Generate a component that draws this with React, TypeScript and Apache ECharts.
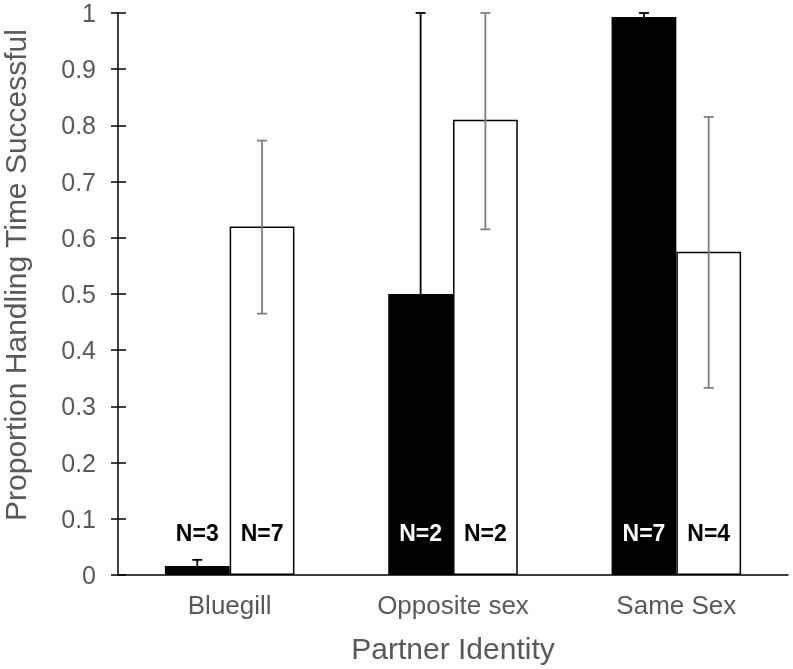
import React, { useEffect, useRef } from "react";
import * as echarts from "echarts";

const categories = ["Bluegill", "Opposite sex", "Same Sex"];
const blackValues = [0.016, 0.5, 0.993];
const whiteValues = [0.62, 0.81, 0.575];
const blackErrHigh = [0.027, 1.0, 1.0];
const whiteErrLow = [0.465, 0.615, 0.333];
const whiteErrHigh = [0.773, 1.0, 0.815];
const blackN = ["N=3", "N=2", "N=7"];
const whiteN = ["N=7", "N=2", "N=4"];
const yTicks = [0, 0.1, 0.2, 0.3, 0.4, 0.5, 0.6, 0.7, 0.8, 0.9, 1];
const yTitle = "Proportion Handling Time Successful";
const xTitle = "Partner Identity";
const labelLevel = 0.075;

const BAR_FRAC = 0.29;
const FONT = "Liberation Sans, Arial, sans-serif";
const GREY_TEXT = "#595959";

export default function App() {
  const ref = useRef<HTMLDivElement>(null);
  useEffect(() => {
    if (!ref.current) return;
    const chart = echarts.init(ref.current, undefined, { renderer: "svg" });

    const errData: any[] = [];
    categories.forEach((_, i) => {
      // black bars: only the upper half is visible above the black bar
      errData.push([i, blackValues[i], blackErrHigh[i], -1, 0]);
      errData.push([i, whiteErrLow[i], whiteErrHigh[i], 1, 1]);
    });
    const labelData: any[] = [];
    const labelTexts: string[] = [];
    const labelColors: string[] = [];
    categories.forEach((_, i) => {
      labelData.push([i, labelLevel, -1]);
      labelTexts.push(blackN[i]);
      labelColors.push(blackValues[i] > labelLevel + 0.03 ? "#fff" : "#000");
      labelData.push([i, labelLevel, 1]);
      labelTexts.push(whiteN[i]);
      labelColors.push("#000");
    });

    const yLabelFmt = (v: number) => {
      const t = yTicks.find((x) => Math.abs(x - v) < 1e-9);
      return t === undefined ? "" : String(t);
    };

    chart.setOption({
      animation: false,
      grid: { left: 118, right: 5, top: 13, bottom: 94 },
      graphic: [
        {
          type: "text",
          x: 15,
          y: 275,
          rotation: Math.PI / 2,
          style: {
            text: yTitle,
            font: "30px " + FONT,
            fill: GREY_TEXT,
            align: "center",
            verticalAlign: "middle",
          },
        },
      ],
      xAxis: {
        type: "category",
        data: categories,
        name: xTitle,
        nameLocation: "middle",
        nameGap: 58,
        nameTextStyle: { fontFamily: FONT, fontSize: 30, color: GREY_TEXT },
        axisLine: { lineStyle: { color: "#000", width: 1.5 } },
        axisTick: { alignWithLabel: true, length: 7, lineStyle: { color: "#000", width: 1.5 } },
        axisLabel: { fontFamily: FONT, fontSize: 26, color: GREY_TEXT, margin: 17 },
      },
      yAxis: [
        {
          type: "value",
          min: 0,
          max: 1,
          interval: 0.1,
          splitLine: { show: false },
          axisLine: { show: true, lineStyle: { color: "#000", width: 1.5 } },
          axisTick: { show: true, length: 7, lineStyle: { color: "#000", width: 1.5 } },
          axisLabel: {
            fontFamily: FONT,
            fontSize: 25,
            color: GREY_TEXT,
            margin: 22,
            formatter: yLabelFmt,
          },
        },
        {
          type: "value",
          position: "left",
          min: 0,
          max: 1,
          interval: 0.1,
          splitLine: { show: false },
          axisLine: { show: false },
          axisTick: { show: true, inside: true, length: 8, lineStyle: { color: "#000", width: 1.5 } },
          axisLabel: { show: false },
        },
      ],
      series: [
        {
          type: "bar",
          data: blackValues,
          barWidth: (BAR_FRAC * 100).toFixed(1) + "%",
          barGap: "0%",
          itemStyle: { color: "#000", borderColor: "#000", borderWidth: 1.5 },
        },
        {
          type: "bar",
          data: whiteValues,
          barWidth: (BAR_FRAC * 100).toFixed(1) + "%",
          barGap: "0%",
          itemStyle: { color: "#fff", borderColor: "#000", borderWidth: 1.5 },
        },
        {
          type: "custom",
          data: errData,
          encode: { x: 0, y: [1, 2] },
          z: 5,
          renderItem: (params: any, api: any) => {
            const i = api.value(0);
            const lo = api.coord([i, api.value(1)]);
            const hi = api.coord([i, api.value(2)]);
            const side = api.value(3);
            const kind = api.value(4);
            const bw = api.size([1, 0])[0] * BAR_FRAC;
            const x = lo[0] + (side * bw) / 2;
            const color = kind === 0 ? "#000" : "#7f7f7f";
            const cap = 5;
            const style = { stroke: color, lineWidth: 1.8 };
            const children: any[] = [
              { type: "line", shape: { x1: x, y1: lo[1], x2: x, y2: hi[1] }, style },
              { type: "line", shape: { x1: x - cap, y1: hi[1], x2: x + cap, y2: hi[1] }, style },
            ];
            if (kind === 1) {
              children.push({ type: "line", shape: { x1: x - cap, y1: lo[1], x2: x + cap, y2: lo[1] }, style });
            }
            return { type: "group", children };
          },
        },
        {
          type: "custom",
          data: labelData,
          encode: { x: 0, y: 1 },
          z: 6,
          renderItem: (params: any, api: any) => {
            const i = api.value(0);
            const p = api.coord([i, api.value(1)]);
            const side = api.value(2);
            const bw = api.size([1, 0])[0] * BAR_FRAC;
            const x = p[0] + (side * bw) / 2;
            return {
              type: "text",
              x,
              y: p[1],
              style: {
                text: labelTexts[params.dataIndex],
                fill: labelColors[params.dataIndex],
                font: "bold 23px " + FONT,
                align: "center",
                verticalAlign: "middle",
              },
            };
          },
        },
      ],
    });
    return () => chart.dispose();
  }, []);
  return (
    <div
      ref={ref}
      style={{ position: "fixed", left: 0, top: 0, width: 793, height: 669 }}
    />
  );
}
